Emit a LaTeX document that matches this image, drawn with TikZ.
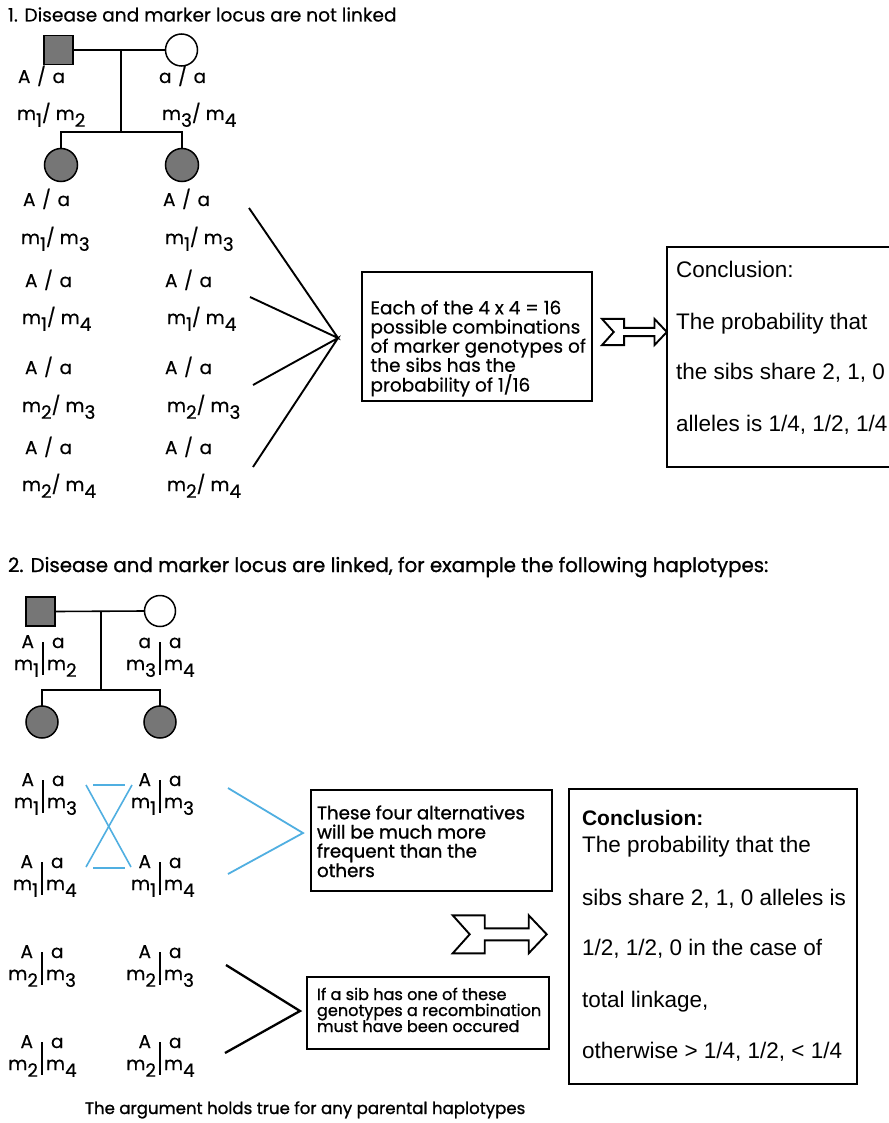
\documentclass[tikz,border=0pt]{standalone}
\usepackage{fontspec}
\newfontfamily\ag[FakeBold=0.4]{Poppins}
\newfontfamily\agb[FakeBold=1.1]{Poppins}
\newfontfamily\ar{Liberation Sans}
\definecolor{bl}{RGB}{80,175,225}
\definecolor{aff}{RGB}{118,118,118}
\newcommand\sbs[1]{\raisebox{-0.37em}{#1}}
\newcommand\sls{\hspace{0.36em}/\hspace{0.36em}}
\tikzset{
  every node/.style={inner sep=0pt, outer sep=0pt},
  ttl/.style={font=\ag\fontsize{18.6}{20}\selectfont, anchor=base west},
  ttlb/.style={font=\agb\fontsize{19.8}{21}\selectfont, anchor=base west},
  lab/.style={font=\ag\fontsize{18.5}{20}\selectfont, anchor=base west},
  hl/.style={font=\ag\fontsize{18.5}{20}\selectfont},
  btxt/.style={font=\ag\fontsize{18.5}{19}\selectfont, anchor=base west},
  btxtb/.style={font=\agb\fontsize{18.3}{19}\selectfont, anchor=base west},
  btxtc/.style={font=\agb\fontsize{16.1}{17}\selectfont, anchor=base west},
  ctxt/.style={font=\ar\fontsize{22.5}{24}\selectfont, anchor=base west},
  ctxtb/.style={font=\ar\bfseries\fontsize{21}{24}\selectfont, anchor=base west},
  male/.style={draw, line width=1.5pt, fill=aff, minimum size=29pt},
  female/.style={draw, circle, line width=1.5pt, minimum size=32pt},
  afffem/.style={draw, circle, line width=1.5pt, fill=aff, minimum size=33pt},
  ped/.style={line width=1.6pt},
  fan/.style={line width=1.9pt},
  bfan/.style={line width=1.6pt, draw=bl},
  box/.style={draw, line width=1.9pt},
  hbar/.style={line width=2.8pt},
  darr/.style={line width=1.9pt, line join=miter},
}
\newcommand\hap[7]{%
  \node[hl, anchor=base east] (#1-tl) at (#2-9,#3) {#4};
  \node[hl, anchor=base west] (#1-tr) at (#2+9,#3) {#5};
  \node[hl, anchor=base east] (#1-bl) at (#2-4,#3+22) {#6};
  \node[hl, anchor=base west] (#1-br) at (#2+4,#3+22) {#7};
  \draw[hbar] (#2,#3-6) -- (#2,#3+27);
}
\newcommand\darrow[3]{%
  \draw[darr, shift={(#1,#2)}, scale=#3] (0,-19) -- (32,-19) -- (32,-6) -- (76,-6) -- (76,-19) -- (94,0) -- (76,19) -- (76,6) -- (32,6) -- (32,19) -- (0,19) -- (17,0) -- cycle;
}
\begin{document}
\begin{tikzpicture}[x=1pt,y=-1pt]
\useasboundingbox (0,0) rectangle (888,1123);
\fill[white] (0,0) rectangle (888,1123);

% ---------- Section 1 ----------
\node[ttl] (t1) at (8,21.5) {1. Disease and marker locus are not linked};

\node[male] (f1) at (58.5,50) {};
\node[female] (mo1) at (181.5,50) {};
\draw[ped] (f1.east) -- (mo1.west);
\coordinate (j1) at (121,50);
\coordinate (s1) at (121,132);
\draw[ped] (j1) -- (s1);
\node[afffem] (c1a) at (61,165) {};
\node[afffem] (c1b) at (182,165) {};
\draw[ped] (c1a.north) |- (s1) -| (c1b.north);

\node[lab] (f1g) at (18,83) {A\sls a};
\node[lab] (f1m) at (17,120) {m\sbs{1}/ m\sbs{2}};
\node[lab] (mo1g) at (159,83) {a\sls a};
\node[lab] (mo1m) at (162,120) {m\sbs{3}/ m\sbs{4}};

% children genotypes
\node[lab] (g1l) at (23,206) {A\sls a};
\node[lab] (m1l) at (21,244) {m\sbs{1}/ m\sbs{3}};
\node[lab] (g2l) at (25,287) {A\sls a};
\node[lab] (m2l) at (22,324) {m\sbs{1}/ m\sbs{4}};
\node[lab] (g3l) at (25,374) {A\sls a};
\node[lab] (m3l) at (22,412) {m\sbs{2}/ m\sbs{3}};
\node[lab] (g4l) at (25,454) {A\sls a};
\node[lab] (m4l) at (22,491) {m\sbs{2}/ m\sbs{4}};

\node[lab] (g1r) at (163,206) {A\sls a};
\node[lab] (m1r) at (165,244) {m\sbs{1}/ m\sbs{3}};
\node[lab] (g2r) at (165,287) {A\sls a};
\node[lab] (m2r) at (167,324) {m\sbs{1}/ m\sbs{4}};
\node[lab] (g3r) at (165,374) {A\sls a};
\node[lab] (m3r) at (167,412) {m\sbs{2}/ m\sbs{3}};
\node[lab] (g4r) at (165,454) {A\sls a};
\node[lab] (m4r) at (167,491) {m\sbs{2}/ m\sbs{4}};

% fan
\coordinate (fa1) at (249,208);
\coordinate (fa2) at (250,297);
\coordinate (fa3) at (253,385);
\coordinate (fa4) at (253,467);
\coordinate (ap1) at (338,338);
\draw[fan] (fa1) -- (ap1) -- (fa2);
\draw[fan] (fa3) -- (ap1) -- (fa4);

% box 1
\node[box, minimum width=230pt, minimum height=129pt] (b1) at (477,336.5) {};
\node[btxt] (b1a) at (370.5,314.3) {Each of the 4 x 4 = 16};
\node[btxt] (b1b) at (370.5,333.5) {possible combinations};
\node[btxt] (b1c) at (370.5,352.7) {of marker genotypes of};
\node[btxt] (b1d) at (370.5,371.8) {the sibs has the};
\node[btxt] (b1e) at (370.5,391.5) {probability of 1/16};

\darrow{602}{332}{0.69}

% conclusion 1
\node[box, minimum width=240pt, minimum height=220pt] (cc1) at (787,357) {};
\node[ctxt] (cc1a) at (676,277) {Conclusion:};
\node[ctxt] (cc1b) at (676,329) {The probability that};
\node[ctxt] (cc1c) at (676,379.5) {the sibs share 2, 1, 0};
\node[ctxt] (cc1d) at (676,431) {alleles is 1/4, 1/2, 1/4};

% ---------- Section 2 ----------
\node[ttlb] (t2) at (8,572) {2. Disease and marker locus are linked, for example the following haplotypes:};

\node[male] (f2) at (40.5,611.5) {};
\node[female, minimum size=31pt] (mo2) at (160,611) {};
\draw[ped] (f2.east) -- (mo2.west);
\coordinate (j2) at (101,611);
\coordinate (s2) at (101,690);
\draw[ped] (j2) -- (s2);
\node[afffem, minimum size=32pt] (c2a) at (42,722) {};
\node[afffem, minimum size=32pt] (c2b) at (160,722) {};
\draw[ped] (c2a.north) |- (s2) -| (c2b.north);

\hap{hf}{43}{648}{A}{a}{m\sbs{1}}{m\sbs{2}}
\hap{hm}{160}{648}{a}{a}{m\sbs{3}}{m\sbs{4}}

\hap{h1l}{43}{786}{A}{a}{m\sbs{1}}{m\sbs{3}}
\hap{h1r}{160}{786}{A}{a}{m\sbs{1}}{m\sbs{3}}
\hap{h2l}{42}{868}{A}{a}{m\sbs{1}}{m\sbs{4}}
\hap{h2r}{160}{868}{A}{a}{m\sbs{1}}{m\sbs{4}}
\hap{h3l}{42}{958}{A}{a}{m\sbs{2}}{m\sbs{3}}
\hap{h3r}{160}{958}{A}{a}{m\sbs{2}}{m\sbs{3}}
\hap{h4l}{42}{1048}{A}{a}{m\sbs{2}}{m\sbs{4}}
\hap{h4r}{160}{1048}{A}{a}{m\sbs{2}}{m\sbs{4}}

% blue cross
\coordinate (x1) at (86,785);
\coordinate (x2) at (132,785);
\coordinate (x3) at (86,867);
\coordinate (x4) at (131,867);
\coordinate (xh1) at (93,785);
\coordinate (xh2) at (125,785);
\coordinate (xh3) at (93,868);
\coordinate (xh4) at (125,868);
\draw[bfan] (x1) -- (x4);
\draw[bfan] (x2) -- (x3);
\draw[bfan] (xh1) -- (xh2);
\draw[bfan] (xh3) -- (xh4);

% chevrons
\coordinate (bc1) at (228,788);
\coordinate (bca) at (303,833);
\coordinate (bc2) at (228,874);
\draw[bfan, line width=1.8pt] (bc1) -- (bca) -- (bc2);
\coordinate (kc1) at (226,965);
\coordinate (kca) at (300,1011);
\coordinate (kc2) at (225,1053);
\draw[fan, line width=2.3pt] (kc1) -- (kca) -- (kc2);

% box 2
\node[box, minimum width=241pt, minimum height=101pt] (b2) at (431.5,840.5) {};
\node[btxtb] (b2a) at (317,819.3) {These four alternatives};
\node[btxtb] (b2b) at (317,838.5) {will be much more};
\node[btxtb] (b2c) at (317,857.5) {frequent than the};
\node[btxtb] (b2d) at (317,877) {others};

% box 3
\node[box, minimum width=242pt, minimum height=72pt] (b3) at (428,1013) {};
\node[btxtc] (b3a) at (317,1000) {If a sib has one of these};
\node[btxtc] (b3b) at (317,1016) {genotypes a recombination};
\node[btxtc] (b3c) at (317,1032) {must have been occured};

\darrow{452.7}{934.3}{1}

% conclusion 2
\node[box, minimum width=288pt, minimum height=295pt] (cc2) at (713,936.5) {};
\node[ctxtb] (cc2a) at (582,825) {Conclusion:};
\node[ctxt] (cc2b) at (582,852.7) {The probability that the};
\node[ctxt] (cc2c) at (582,905) {sibs share 2, 1, 0 alleles is};
\node[ctxt] (cc2d) at (582,955.7) {1/2, 1/2, 0 in the case of};
\node[ctxt] (cc2e) at (582,1007.7) {total linkage,};
\node[ctxt] (cc2f) at (582,1058) {otherwise > 1/4, 1/2, < 1/4};

\node[ttl, font=\agb\fontsize{16.6}{18}\selectfont] (cap) at (85,1114) {The argument holds true for any parental haplotypes};
\end{tikzpicture}
\end{document}
